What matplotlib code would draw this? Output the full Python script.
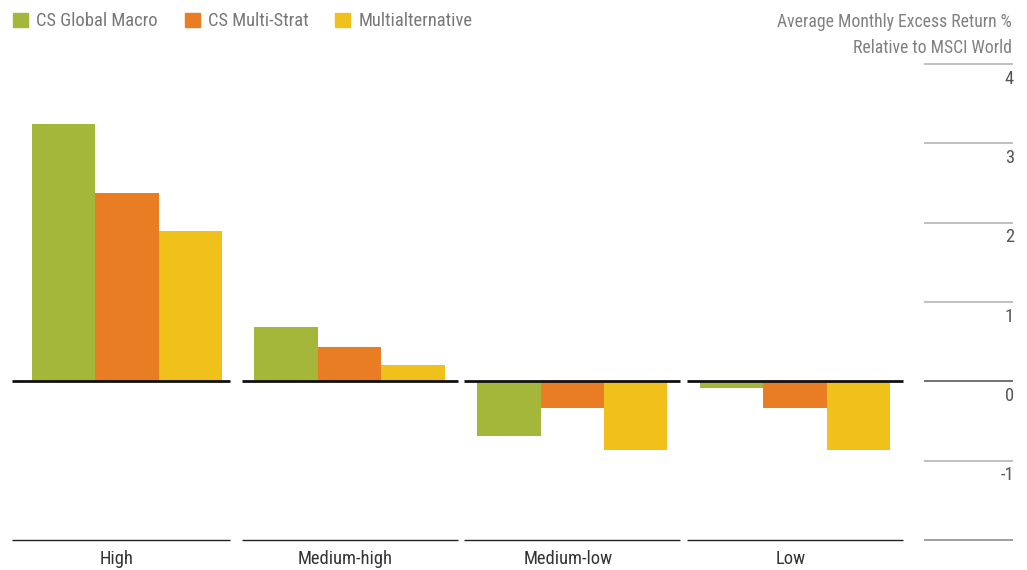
import numpy as np
import matplotlib.pyplot as plt
from matplotlib import font_manager

# prefer a narrow face if one is around
installed = {f.name for f in font_manager.fontManager.ttflist}
narrow = ['Roboto Condensed', 'Liberation Sans Narrow', 'Open Sans Condensed',
          'DejaVu Sans Condensed', 'Noto Sans Condensed', 'Roboto']
face = next((n for n in narrow if n in installed), 'DejaVu Sans')
plt.rcParams['font.family'] = [face, 'DejaVu Sans']
fs = 13.3 if face in ('Roboto Condensed', 'Liberation Sans Narrow',
                      'Open Sans Condensed') else 11.5

groups = ['High', 'Medium-high', 'Medium-low', 'Low']
series = ['CS Global Macro', 'CS Multi-Strat', 'Multialternative']
values = [
    [3.25, 0.68, -0.69, -0.09],   # CS Global Macro
    [2.37, 0.43, -0.34, -0.34],   # CS Multi-Strat
    [1.90, 0.21, -0.86, -0.86],   # Multialternative
]
colors = ['#A4B73A', '#E97D23', '#F1C11B']
yticks = [4, 3, 2, 1, 0, -1]

fig = plt.figure(figsize=(10.27, 5.70), dpi=100)
ax = fig.add_axes([0, 0, 1, 1])
ax.set_xlim(-0.570, 4.042)
ax.set_ylim(-2.378, 4.807)
ax.axis('off')

x = np.arange(len(groups))
w = 0.285
for i, (name, vals, c) in enumerate(zip(series, values, colors)):
    ax.bar(x + (i - 1) * w, vals, width=w, color=c, linewidth=0, zorder=2)

# per-group baseline and floor lines
half = 0.485
for xi, g in zip(x, groups):
    left = xi - half - (0.03 if xi == 0 else 0)
    right = xi + half - (0.02 if xi == 0 else 0)
    ax.hlines(0, left, right, color='#111111', lw=2, zorder=3)
    ax.hlines(-2, left, right, color='#222222', lw=1, zorder=3)
    ax.text((left + right) / 2 - 0.02, -2.245, g, ha='center', va='center',
            fontsize=fs, color='#333333')

# value scale on the right
gx0, gx1 = 3.579, 3.979
for t in yticks:
    col = '#666666' if t == 0 else '#bbbbbb'
    ax.hlines(t, gx0, gx1, color=col, lw=1.3)
    ax.text(gx1 + 0.005, t - 0.07, f'{t}', ha='right', va='top', fontsize=fs,
            color='#555555')
ax.hlines(-2, gx0, gx1, color='#999999', lw=1.3)
ax.text(gx1 - 0.005, 4.64, 'Average Monthly Excess Return %\nRelative to MSCI World',
        ha='right', va='top', fontsize=fs - 0.6, color='#808080', linespacing=1.55)

# legend
handles = [plt.Rectangle((0, 0), 1, 1, color=c) for c in colors]
fig.legend(handles, series, loc='upper left', bbox_to_anchor=(0.003, 0.996),
           borderaxespad=0.2, borderpad=0.35,
           ncol=3, frameon=False, fontsize=fs, handlelength=0.8,
           handleheight=0.8, handletextpad=0.45, columnspacing=1.45,
           labelcolor='#777777')

fig.savefig('out.png', dpi=100)
